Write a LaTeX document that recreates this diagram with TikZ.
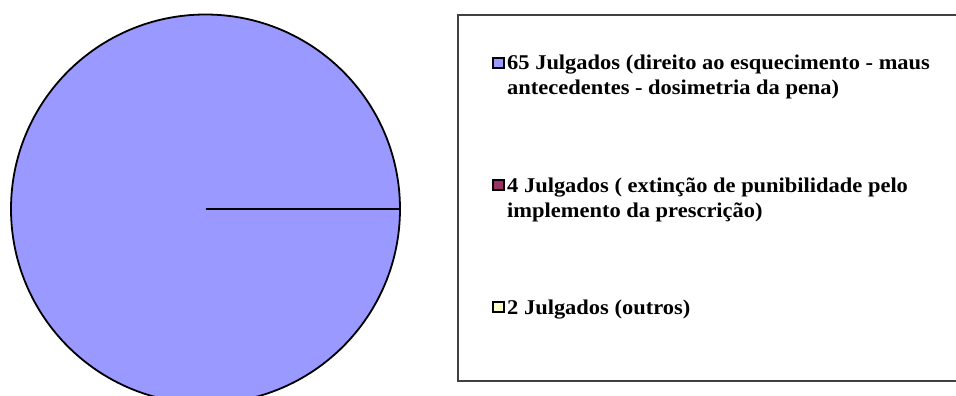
\documentclass[tikz,border=0pt]{standalone}
\usepackage{fontspec}
\setmainfont{Liberation Serif}[FakeStretch=1.07]
\definecolor{pieblue}{HTML}{9999FF}
\definecolor{piemaroon}{HTML}{993366}
\definecolor{pieyellow}{HTML}{FFFFCC}
\definecolor{boxgray}{HTML}{404040}
\tikzset{
  legtext/.style={anchor=base west, inner sep=0pt, font=\fontsize{21}{25}\selectfont\bfseries},
  legsq/.style={draw=black, line width=2pt, minimum width=11pt, minimum height=10pt, inner sep=0pt, anchor=south west}
}
\begin{document}
\begin{tikzpicture}[x=1pt,y=-1pt]
\useasboundingbox (0,0) rectangle (956,396);
\begin{scope}
\clip (0,0) rectangle (956,396);
\fill[pieblue] (205.5,209) circle[radius=194.5];
\draw[line width=1.8pt] (205.5,209) circle[radius=194.5];
\coordinate (pc) at (205.5,209);
\coordinate (pe) at (400,209);
\draw[line width=2.5pt] (pc) -- (pe);
% legend box
\draw[boxgray, line width=1.5pt] (970,15) -- (458,15) -- (458,381) -- (970,381);
\end{scope}
\node[legsq, fill=pieblue] (s1) at (492,69) {};
\node[legtext] (t1a) at (507,70) {65 Julgados (direito ao esquecimento - maus};
\node[legtext] (t1b) at (507,95) {antecedentes - dosimetria da pena)};
\node[legsq, fill=piemaroon] (s2) at (492,191) {};
\node[legtext] (t2a) at (507,192) {4 Julgados ( extinção de punibilidade pelo};
\node[legtext] (t2b) at (507,217) {implemento da prescrição)};
\node[legsq, fill=pieyellow] (s3) at (492,313) {};
\node[legtext] (t3) at (507,314) {2 Julgados (outros)};
\end{tikzpicture}
\end{document}
